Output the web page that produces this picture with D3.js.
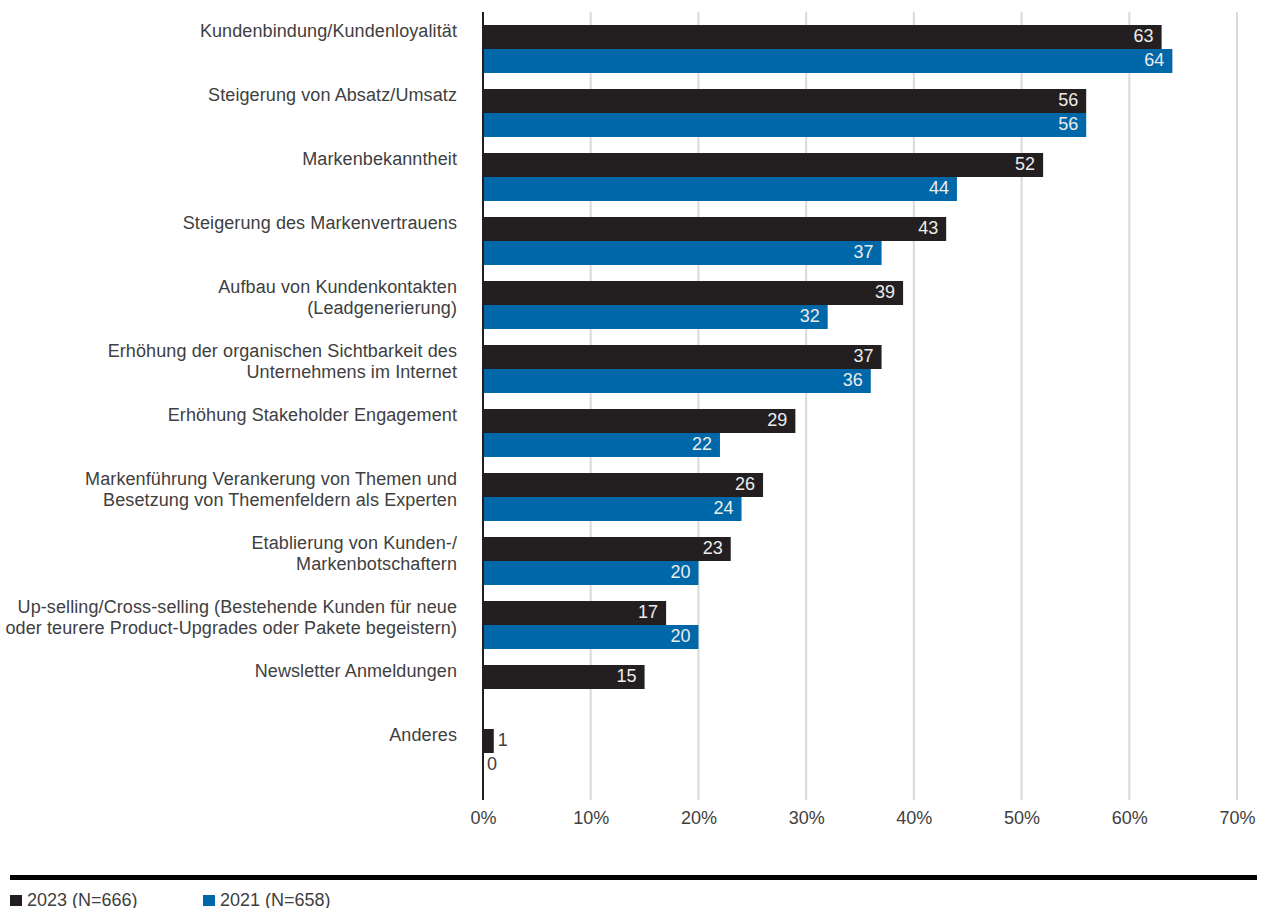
<!DOCTYPE html>
<html>
<head>
<meta charset="utf-8">
<script src="https://cdn.jsdelivr.net/npm/d3@7"></script>
<style>
  html, body { margin: 0; padding: 0; background: #fff; }
  svg { display: block; font-family: "Liberation Sans", Arial, sans-serif; }
</style>
</head>
<body>
<svg id="chart" width="1269" height="908"></svg>
<script>
// Categories, each label split into its printed lines
const categories = [
  ["Kundenbindung/Kundenloyalität"],
  ["Steigerung von Absatz/Umsatz"],
  ["Markenbekanntheit"],
  ["Steigerung des Markenvertrauens"],
  ["Aufbau von Kundenkontakten", "(Leadgenerierung)"],
  ["Erhöhung der organischen Sichtbarkeit des", "Unternehmens im Internet"],
  ["Erhöhung Stakeholder Engagement"],
  ["Markenführung Verankerung von Themen und", "Besetzung von Themenfeldern als Experten"],
  ["Etablierung von Kunden-/", "Markenbotschaftern"],
  ["Up-selling/Cross-selling (Bestehende Kunden für neue", "oder teurere Product-Upgrades oder Pakete begeistern)"],
  ["Newsletter Anmeldungen"],
  ["Anderes"]
];
const series = ["2023 (N=666)", "2021 (N=658)"];
const values2023 = [63, 56, 52, 43, 39, 37, 29, 26, 23, 17, 15, 1];
const values2021 = [64, 56, 44, 37, 32, 36, 22, 24, 20, 20, null, 0];
const tickValues = [0, 10, 20, 30, 40, 50, 60, 70];
const colors = ["#231f20", "#0068a8"];

const svg = d3.select("#chart");
const x0 = 483, x1 = 1237;
const x = d3.scaleLinear().domain([0, 70]).range([x0, x1]);
const keys = categories.map((c, i) => i);
const y = d3.scaleBand().domain(keys).range([17, 785]).paddingInner(0.25).paddingOuter(0.125);
const ySub = d3.scaleBand().domain(series).range([0, y.bandwidth()]);

const textColor = "#404040";
const fontSize = 18;
const tracking = 0.1;

// vertical gridlines
svg.append("g").selectAll("line").data(tickValues.slice(1)).join("line")
  .attr("x1", d => x(d)).attr("x2", d => x(d))
  .attr("y1", 12).attr("y2", 800)
  .attr("stroke", "#d9d9d9").attr("stroke-width", 2);

// x axis tick labels
const xAxis = d3.axisBottom(x).tickValues(tickValues).tickFormat(d => d + "%").tickSize(0).tickPadding(0);
const ax = svg.append("g").attr("transform", "translate(0,810)").call(xAxis);
ax.select(".domain").remove();
ax.selectAll("text").attr("font-size", fontSize).attr("fill", textColor)
  .attr("font-family", "Liberation Sans, Arial, sans-serif").attr("dy", "0.75em");

// bars
const rows = keys.map(i => ({ i, vals: [values2023[i], values2021[i]] }));
const groups = svg.append("g").selectAll("g").data(rows).join("g")
  .attr("transform", d => `translate(0,${y(d.i)})`);

groups.selectAll("rect").data(d => d.vals.map((v, k) => ({ v, k })).filter(e => e.v !== null))
  .join("rect")
  .attr("x", x(0))
  .attr("y", e => ySub(series[e.k]))
  .attr("width", e => x(e.v) - x(0))
  .attr("height", ySub.bandwidth())
  .attr("fill", e => colors[e.k]);

// value labels: inside the bar end, or just outside when the bar is short
groups.selectAll("text.val").data(d => d.vals.map((v, k) => ({ v, k })).filter(e => e.v !== null))
  .join("text")
  .attr("class", "val")
  .attr("font-size", fontSize)
  .attr("y", e => ySub(series[e.k]) + ySub.bandwidth() / 2)
  .attr("dy", "0.3em")
  .each(function (e) {
    const inside = x(e.v) - x(0) > 30;
    d3.select(this)
      .attr("x", inside ? x(e.v) - 8 : x(e.v) + 4)
      .attr("text-anchor", inside ? "end" : "start")
      .attr("fill", inside ? "#ececec" : textColor)
      .text(e.v);
  });

// category labels, first line on the centre of the 2023 bar
const labels = svg.append("g").selectAll("text").data(rows).join("text")
  .attr("x", 457)
  .attr("y", d => y(d.i) + ySub.bandwidth() / 2)
  .attr("text-anchor", "end")
  .attr("font-size", fontSize)
  .attr("letter-spacing", tracking)
  .attr("fill", textColor);
labels.selectAll("tspan").data(d => categories[d.i]).join("tspan")
  .attr("x", 457)
  .attr("dy", (t, j) => j === 0 ? 0 : 21)
  .text(t => t);

// category axis line
svg.append("line")
  .attr("x1", x0).attr("x2", x0).attr("y1", 12).attr("y2", 800)
  .attr("stroke", "#231f20").attr("stroke-width", 2);

// rule above the legend
svg.append("rect").attr("x", 10).attr("y", 875).attr("width", 1247).attr("height", 5).attr("fill", "#000");

// legend
const legendX = [10, 203];
const leg = svg.append("g").selectAll("g").data(series).join("g")
  .attr("transform", (d, k) => `translate(${legendX[k]},895)`);
leg.append("rect").attr("width", 12).attr("height", 11).attr("fill", (d, k) => colors[k]);
leg.append("text").attr("x", 17).attr("y", 11).attr("font-size", fontSize).attr("fill", textColor).text(d => d);
</script>
</body>
</html>
